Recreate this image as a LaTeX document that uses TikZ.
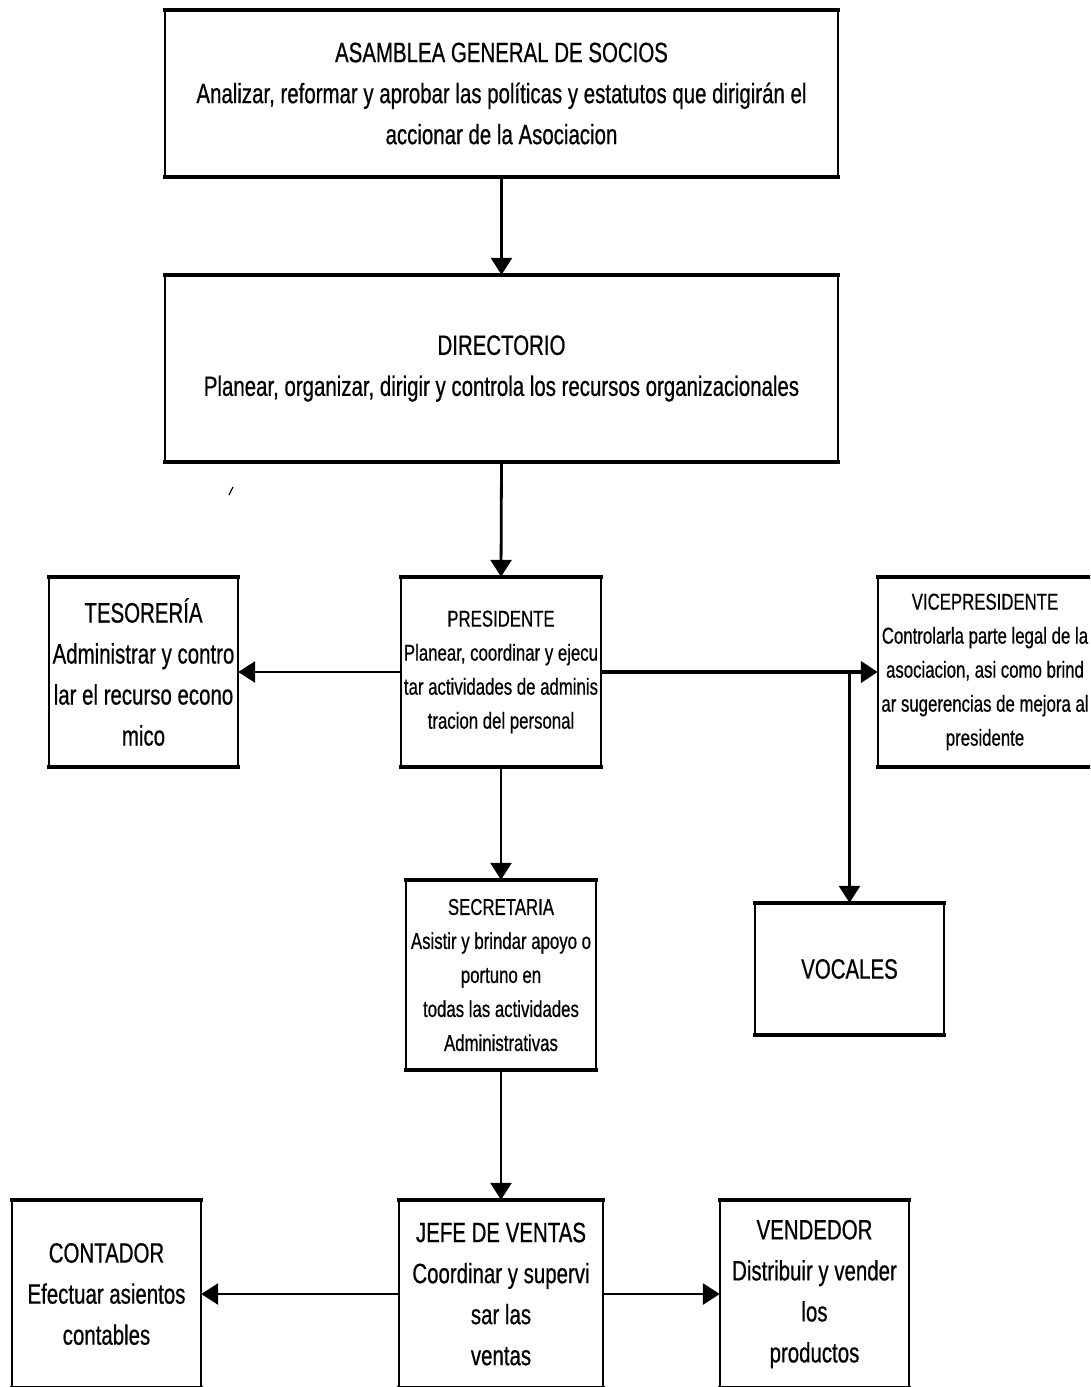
\documentclass[tikz,border=0pt]{standalone}
\usepackage{fontspec}
\setmainfont[FakeStretch=0.73,FakeBold=0.6]{Liberation Sans}
\usetikzlibrary{arrows.meta}
\tikzset{
  box/.style={fill=white, inner sep=0pt, align=center, text=black},
  bigtxt/.style={font=\fontsize{28}{41}\selectfont},
  smalltxt/.style={font=\fontsize{23}{34}\selectfont},
  hedge/.style={line width=4pt, line cap=rect},
  vedge/.style={line width=2.4pt},
  conn/.style={line width=2.8pt, -{Triangle[length=17pt,width=21pt]}},
  thickconn/.style={line width=4.5pt, -{Triangle[length=17pt,width=21pt]}},
}
\begin{document}
\begin{tikzpicture}[x=1pt,y=-1pt]
\clip (0,0) rectangle (1090,1387);
\fill[white] (0,0) rectangle (1090,1387);

\node[box,bigtxt,minimum width=673pt,minimum height=167pt] (asam) at (501.5,93.5)
  {ASAMBLEA GENERAL DE SOCIOS\\Analizar, reformar y aprobar las políticas y estatutos que dirigirán el\\accionar de la Asociacion};
\node[box,bigtxt,minimum width=673pt,minimum height=187pt] (dir) at (501.5,368.5)
  {DIRECTORIO\\Planear, organizar, dirigir y controla los recursos organizacionales};
\node[box,smalltxt,minimum width=200pt,minimum height=190pt] (pres) at (501,672)
  {PRESIDENTE\\Planear, coordinar y ejecu\\tar actividades de adminis\\tracion del personal};
\node[box,bigtxt,minimum width=189pt,minimum height=189pt] (tes) at (143.5,672)
  {TESORERÍA\\Administrar y contro\\lar el recurso econo\\mico};
\node[box,smalltxt,minimum width=214pt,minimum height=190pt] (vice) at (985,672)
  {VICEPRESIDENTE\\Controlarla parte legal de la\\asociacion, asi como brind\\ar sugerencias de mejora al\\presidente};
\node[box,bigtxt,minimum width=189pt,minimum height=132pt] (voc) at (849.5,969)
  {VOCALES};
\node[box,smalltxt,minimum width=190pt,minimum height=190pt] (sec) at (501,975)
  {SECRETARIA\\Asistir y brindar apoyo o\\portuno en\\todas las actividades\\Administrativas};
\node[box,bigtxt,minimum width=204pt,minimum height=188pt] (jefe) at (501,1294)
  {JEFE DE VENTAS\\Coordinar y supervi\\sar las\\ventas};
\node[box,bigtxt,minimum width=189pt,minimum height=188pt] (cont) at (106.5,1294)
  {CONTADOR\\Efectuar asientos\\contables};
\node[box,bigtxt,minimum width=189pt,minimum height=188pt] (vend) at (814.5,1294)
  {VENDEDOR\\Distribuir y vender\\los\\productos};

\foreach \n in {asam,dir,pres,tes,vice,voc,sec,jefe,cont,vend}{
  \draw[vedge] (\n.north west) -- (\n.south west) (\n.north east) -- (\n.south east);
  \draw[hedge] (\n.north west) -- (\n.north east) (\n.south west) -- (\n.south east);
}

\coordinate (branch) at (pres.east -| voc.north);

\draw[conn] (asam.south) -- (dir.north);
\draw[conn] (dir.south) -- (pres.north);
\draw[conn] (pres.west) -- (tes.east);
\draw[thickconn] (pres.east) -- (vice.west);
\draw[conn] (branch) -- (voc.north);
\draw[conn] (pres.south) -- (sec.north);
\draw[conn] (sec.south) -- (jefe.north);
\draw[conn] (jefe.west) -- (cont.east);
\draw[conn] (jefe.east) -- (vend.west);

% stray mark
\draw[line width=1.3pt] (229,495) -- (233,487);
\end{tikzpicture}
\end{document}
